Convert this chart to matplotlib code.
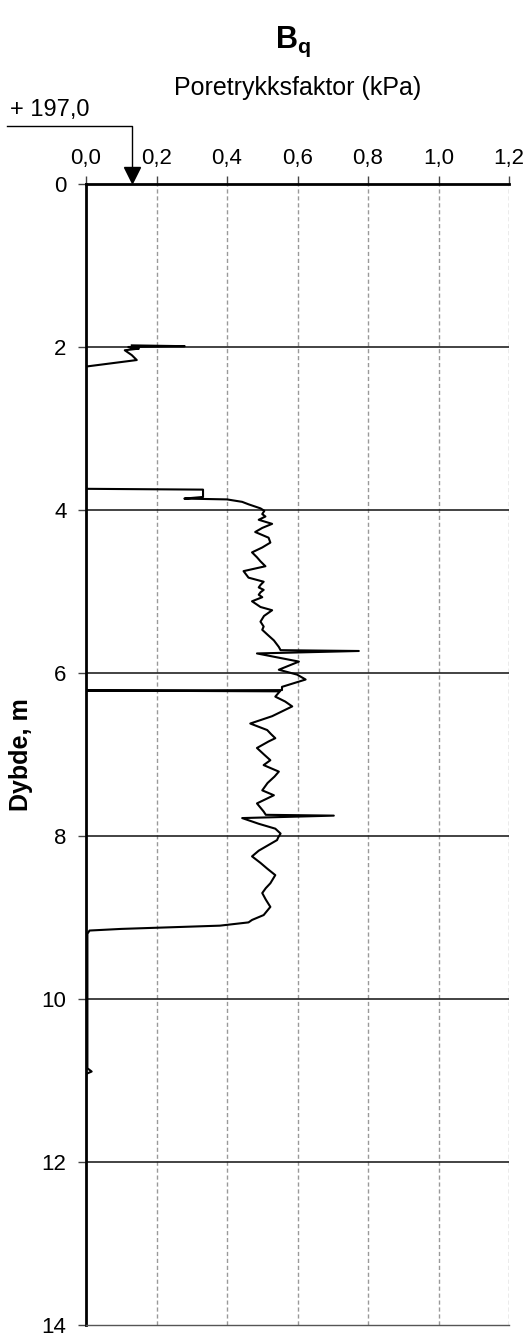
import matplotlib.pyplot as plt
from matplotlib.ticker import FuncFormatter

plt.rcParams['font.family'] = ['Liberation Sans', 'DejaVu Sans']
plt.rcParams['mathtext.fontset'] = 'custom'
plt.rcParams['mathtext.bf'] = 'Liberation Sans:bold'
plt.rcParams['mathtext.rm'] = 'Liberation Sans'

# Bq profile (depth in m, Bq value)
depth = [1.98, 1.99, 2.00, 2.01, 2.02, 2.04, 2.10, 2.16, 2.24, 3.74,
         3.75, 3.84, 3.86, 3.87, 3.90, 3.93, 3.98, 4.01, 4.05, 4.08, 4.12,
         4.17, 4.22, 4.27, 4.34, 4.40, 4.46, 4.52, 4.58, 4.63, 4.69, 4.75, 4.83, 4.88,
         4.92, 4.95, 4.98, 5.01, 5.04, 5.07, 5.12, 5.19, 5.23, 5.30, 5.37, 5.43, 5.47,
         5.53, 5.60, 5.68, 5.72, 5.73, 5.76, 5.86, 5.96, 6.02, 6.08, 6.17,
         6.21, 6.215, 6.225, 6.29, 6.35, 6.41, 6.53, 6.62, 6.70, 6.75, 6.80, 6.84,
         6.92, 7.00, 7.07, 7.13, 7.21, 7.27, 7.35, 7.44, 7.50, 7.60, 7.70, 7.74,
         7.75, 7.78, 7.85, 7.91, 7.97, 8.02, 8.05, 8.11, 8.18, 8.25, 8.33, 8.40, 8.48, 8.58,
         8.64, 8.70, 8.78, 8.87, 8.97, 9.03, 9.06, 9.10, 9.14, 9.16, 9.20, 10.85,
         10.89, 10.92, 11.00]
bq = [0.13, 0.28, 0.12, 0.13, 0.15, 0.11, 0.13, 0.144, 0.0, 0.0,
      0.332, 0.332, 0.279, 0.40, 0.443, 0.461, 0.495, 0.506, 0.50, 0.509, 0.49,
      0.528, 0.50, 0.48, 0.518, 0.523, 0.50, 0.471, 0.485, 0.495, 0.509, 0.447, 0.461, 0.504,
      0.495, 0.49, 0.504, 0.495, 0.49, 0.50, 0.471, 0.495, 0.528, 0.505, 0.495, 0.504, 0.50,
      0.515, 0.533, 0.547, 0.552, 0.774, 0.485, 0.604, 0.547, 0.599, 0.623, 0.556,
      0.556, 0.0, 0.55, 0.537, 0.565, 0.585, 0.528, 0.466, 0.514, 0.525, 0.537, 0.518,
      0.485, 0.505, 0.523, 0.504, 0.547, 0.535, 0.515, 0.50, 0.533, 0.485, 0.504, 0.51,
      0.703, 0.443, 0.49, 0.537, 0.552, 0.545, 0.542, 0.518, 0.49, 0.471, 0.495, 0.514, 0.537, 0.523,
      0.51, 0.50, 0.51, 0.523, 0.504, 0.471, 0.461, 0.38, 0.10, 0.01, 0.004, 0.004,
      0.016, 0.0, 0.0]

xticks = [0.0, 0.2, 0.4, 0.6, 0.8, 1.0, 1.2]
yticks = [0, 2, 4, 6, 8, 10, 12, 14]
level_text = "+ 197,0"
level_x = 0.13

fig = plt.figure(figsize=(5.30, 13.36), dpi=100)
ax = fig.add_axes([86 / 530, 1 - 1325 / 1336, 423 / 530, 1141 / 1336])

ax.plot(bq, depth, color='black', lw=1.5, zorder=3)

ax.set_xlim(0, 1.2)
ax.set_ylim(14, 0)
ax.set_xticks(xticks)
ax.set_yticks(yticks)
ax.xaxis.tick_top()
ax.xaxis.set_label_position('top')
ax.xaxis.set_major_formatter(FuncFormatter(lambda v, p: f"{v:.1f}".replace('.', ',')))
ax.tick_params(axis='both', labelsize=16, length=6, width=1, color='#444444', direction='out')
ax.tick_params(axis='x', pad=5)
ax.tick_params(axis='y', pad=8)

# grid: solid horizontal, dashed vertical
for y in yticks[1:-1]:
    ax.axhline(y, color='#222222', lw=1.2, zorder=2)
for x in xticks[1:]:
    ax.axvline(x, color='#999999', lw=1, ls=(0, (3, 2)), zorder=1)

ax.spines['right'].set_visible(False)
ax.spines['top'].set_linewidth(2)
ax.spines['left'].set_linewidth(2)
ax.spines['bottom'].set_linewidth(1)
ax.spines['bottom'].set_color('#555555')

ax.set_xlabel("Poretrykksfaktor (kPa)", fontsize=18, labelpad=38)
ax.set_ylabel("Dybde, m", fontsize=18, fontweight='bold', labelpad=6)
fig.text(293 / 530, 1 - 42 / 1336, r"$\mathbf{B}_\mathbf{q}$", fontsize=22,
         ha='center', va='center')

# level marker above the axis
ax.plot([-0.225, level_x, level_x], [-0.71, -0.71, -0.2], color='black', lw=1,
        clip_on=False)
ax.plot([level_x], [-0.11], marker='v', color='black', markersize=12, clip_on=False)
ax.text(-0.215, -0.84, level_text, fontsize=17, ha='left', va='baseline')

fig.savefig("out.png", dpi=100)
